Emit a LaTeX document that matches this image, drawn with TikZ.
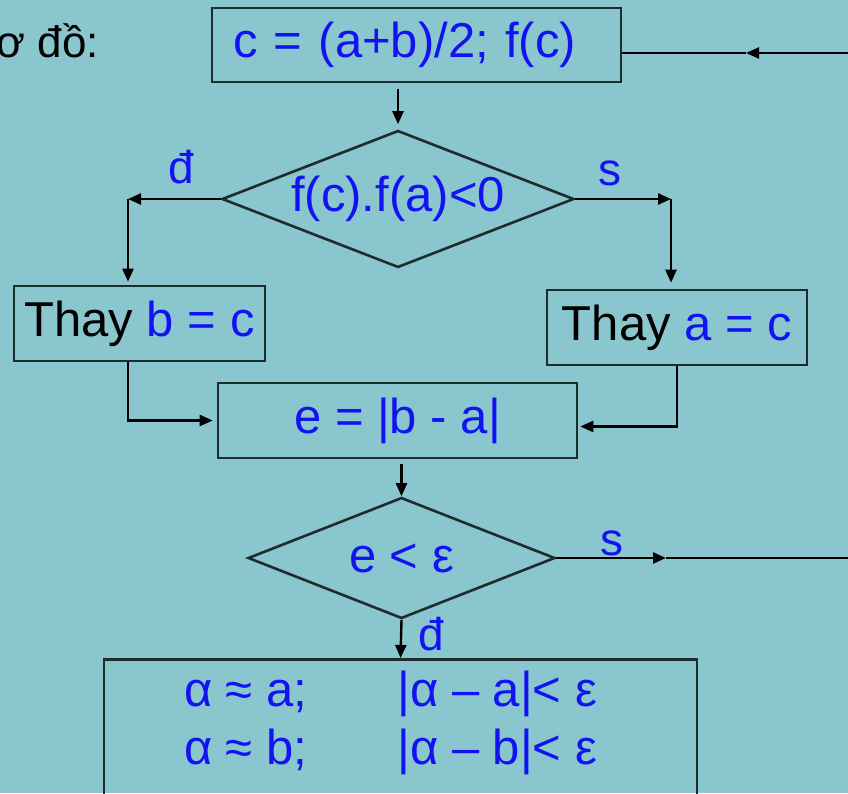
\documentclass[tikz,border=0pt]{standalone}
\usepackage{fontspec}
\setmainfont{Liberation Sans}
\usetikzlibrary{arrows.meta, positioning, shapes.geometric, calc}
\definecolor{fbg}{HTML}{8AC6CE}
\definecolor{fblue}{HTML}{1212F2}
\definecolor{fline}{HTML}{1E2C2C}
\tikzset{
  fbox/.style={draw=fline, line width=2.6pt, rectangle, inner sep=0pt,
               minimum height=75pt, text=fblue, font=\fontsize{49}{58}\selectfont},
  fdia/.style={draw=fline, line width=2.6pt, diamond, inner sep=0pt,
               text=fblue, font=\fontsize{49}{58}\selectfont},
  arr/.style={-{Triangle[length=13pt, width=11pt]}, line width=2.4pt, black},
  fln/.style={line width=2.4pt, black},
  lbl/.style={text=fblue, inner sep=0pt, font=\fontsize{46}{50}\selectfont},
}

\begin{document}
\begin{tikzpicture}[x=1pt, y=-1pt]
  \useasboundingbox (0,0) rectangle (848,793);
  \clip (0,0) rectangle (848,793);
  \fill[fbg] (0,0) rectangle (848,793);

  %% Title, cut at the left edge
  \node[anchor=base east, inner sep=0pt, font=\fontsize{44}{50}\selectfont]
    (title) at (99,57) {Sơ đồ:};

  %% Boxes and tests
  \node[fbox, minimum width=409pt, minimum height=74pt, text width=367pt,
        align=left, inner xsep=21pt]
    (mid) at (416.5,45) {c = (a+b)/2; f(c)};
  \node[fdia, minimum width=352pt, minimum height=137pt, aspect=2.57]
    (t1) at (398,199) {f(c).f(a)<0};
  \node[fbox, minimum width=251pt, text=black]
    (setb) at (139.5,323.5) {Thay \textcolor{fblue}{b = c}};
  \node[fbox, minimum width=260pt, text=black]
    (seta) at (677,327.5) {Thay \textcolor{fblue}{a = c}};
  \node[fbox, minimum width=359pt]
    (err) at (397.5,420.5) {e = |b - a|};
  \node[fdia, minimum width=307pt, minimum height=121pt, aspect=2.54]
    (t2) at (401.5,558) {e < ε};
  \node[fbox, anchor=north, minimum width=593pt, inner ysep=7pt]
    (res) at (400.5,658)
    {\begin{tabular}{@{}l@{\hspace{90pt}}l@{\hspace{20pt}}}
       α ≈ a; & |α – a|< ε\\
       α ≈ b; & |α – b|< ε\\[30pt]
     \end{tabular}};

  %% Corners and loop points
  \coordinate (cL) at (128,199);
  \coordinate (cR) at (671,199);
  \coordinate (mB) at (666,558);
  \coordinate (lpB) at (890,558);
  \coordinate (lpT) at (890,53);
  \coordinate (mT) at (746,53);

  %% Connectors
  \draw[arr, shorten <=6pt, shorten >=5pt] (t1.north |- mid.south) -- (t1.north);
  \draw[arr] (t1.west) -- (cL);
  \draw[arr, shorten >=3pt] (cL) -- (cL |- setb.north);
  \draw[arr] (t1.east) -- (cR);
  \draw[arr, shorten >=6pt] (cR) -- (cR |- seta.north);
  \draw[arr, shorten >=4pt] (cL |- setb.south) |- (err.west);
  \draw[arr, shorten >=2pt] (seta.south) |- ($(err.east)+(0,6)$);
  \draw[arr, shorten <=5pt] (t2.north |- err.south) -- (t2.north);
  \draw[arr] (t2.south) -- (res.north);
  \draw[arr] (t2.east) -- (mB);
  \draw[fln] (mB) -- (lpB);
  \draw[arr] (lpB) -- (lpT) -- (mT);
  \draw[fln] (mT) -- (mid.east |- mT);

  %% Branch labels
  \node[lbl] (y1) at (181,167) {đ};
  \node[lbl] (n1) at (610,173) {s};
  \node[lbl] (n2) at (612,543) {s};
  \node[lbl] (y2) at (431,634) {đ};
\end{tikzpicture}
\end{document}
